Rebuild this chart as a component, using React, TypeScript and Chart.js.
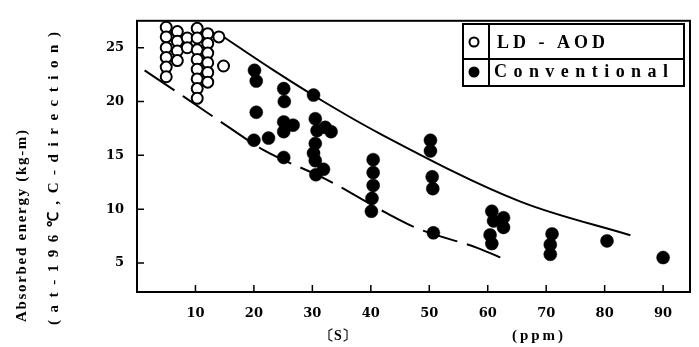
import React, { useEffect, useRef } from 'react';
import { Chart, registerables } from 'chart.js';

Chart.register(...registerables);

// ---- data ----
const ldAodX = [
  5.0, 5.0, 5.0, 5.0, 5.0, 5.0,
  6.9, 6.9, 6.9, 6.9,
  8.6, 8.6,
  10.3, 10.3, 10.3, 10.3, 10.3, 10.3, 10.3, 10.3,
  12.1, 12.1, 12.1, 12.1, 12.1, 12.1,
  14.0, 14.8,
];
const ldAodY = [
  26.9, 26.0, 25.0, 24.1, 23.2, 22.3,
  26.5, 25.6, 24.7, 23.8,
  25.9, 25.0,
  26.8, 25.9, 24.8, 23.9, 23.0, 22.1, 21.2, 20.3,
  26.3, 25.4, 24.5, 23.6, 22.7, 21.8,
  26.0, 23.3,
];

const convX = [
  20.1, 20.4, 20.4, 20.0, 22.5,
  25.1, 25.2, 25.1, 26.7, 25.1, 25.1,
  30.2, 30.5, 32.2, 33.2, 30.8, 30.5, 30.2, 30.5, 31.9, 30.6,
  40.4, 40.4, 40.4, 40.2, 40.1,
  50.2, 50.2, 50.5, 50.6, 50.7,
  60.7, 62.7, 61.0, 62.7, 60.4, 60.7,
  71.0, 70.7, 70.7,
  80.4, 90.0,
];
const convY = [
  22.9, 21.9, 19.0, 16.4, 16.6,
  21.2, 20.0, 18.1, 17.8, 17.2, 14.8,
  20.6, 18.4, 17.6, 17.2, 17.3, 16.1, 15.2, 14.5, 13.7, 13.2,
  14.6, 13.4, 12.2, 11.0, 9.8,
  16.4, 15.4, 13.0, 11.9, 7.8,
  9.8, 9.2, 8.9, 8.3, 7.6, 6.8,
  7.7, 6.7, 5.8,
  7.05, 5.5,
];

const upperX = [14.0, 23.2, 31.9, 41.6, 65.6, 84.4];
const upperY = [26.3, 22.96, 20.0, 17.0, 10.7, 7.57];

const lowerX = [1.3, 8.0, 16.0, 21.6, 32.6, 42.8, 48.0, 58.2, 63.5];
const lowerY = [22.9, 20.45, 17.5, 15.5, 12.7, 9.6, 8.2, 6.4, 5.2];

const xTicks = [10, 20, 30, 40, 50, 60, 70, 80, 90];
const yTicks = [5, 10, 15, 20, 25];
const xMin = 0;
const xMax = 94.6;
const yMin = 2.3;
const yMax = 27.5;

const yTitle1 = 'Absorbed energy (kg-m)';
const yTitle2 = '(at-196℃,C-direction)';
const xUnit1 = '〔S〕';
const xUnit2 = '(ppm)';
const legendLabels = ['LD - AOD', 'Conventional'];

const zip = (xs: number[], ys: number[]) => xs.map((x, i) => ({ x, y: ys[i] }));

function spacedText(ctx: CanvasRenderingContext2D, text: string, x: number, y: number, target: number) {
  const chars = Array.from(text);
  const widths = chars.map((c) => ctx.measureText(c).width);
  const total = widths.reduce((a, b) => a + b, 0);
  const gap = chars.length > 1 ? Math.max(0, (target - total) / (chars.length - 1)) : 0;
  let cx = x;
  chars.forEach((c, i) => {
    ctx.fillText(c, cx, y);
    cx += widths[i] + gap;
  });
}

const decor = {
  id: 'decor',
  beforeDatasetsDraw(chart: any) {
    const { ctx, chartArea: a, scales } = chart;
    ctx.save();
    ctx.strokeStyle = '#000';
    ctx.lineWidth = 2;
    ctx.strokeRect(a.left, a.top, a.right - a.left, a.bottom - a.top);
    ctx.lineWidth = 1.5;
    ctx.beginPath();
    for (const v of xTicks) {
      const x = scales.x.getPixelForValue(v);
      ctx.moveTo(x, a.bottom);
      ctx.lineTo(x, a.bottom - 7);
    }
    for (const v of yTicks) {
      const y = scales.y.getPixelForValue(v);
      ctx.moveTo(a.left, y);
      ctx.lineTo(a.left + 7, y);
    }
    ctx.stroke();
    ctx.restore();
  },
  afterDraw(chart: any) {
    const { ctx } = chart;
    ctx.save();
    ctx.fillStyle = '#000';
    ctx.textBaseline = 'middle';
    ctx.textAlign = 'left';

    // y-axis title, two rotated lines
    ctx.font = 'bold 15px "Liberation Serif"';
    ctx.save();
    ctx.translate(22, 322);
    ctx.rotate(-Math.PI / 2);
    spacedText(ctx, yTitle1, 0, 0, 192);
    ctx.restore();
    ctx.save();
    ctx.translate(54, 325);
    ctx.rotate(-Math.PI / 2);
    spacedText(ctx, yTitle2, 0, 0, 293);
    ctx.restore();

    // x-axis unit labels
    ctx.font = 'bold 14px "Liberation Serif"';
    ctx.textAlign = 'center';
    ctx.fillText(xUnit1, 338, 336);
    ctx.textAlign = 'left';
    ctx.font = 'bold 15px "Liberation Serif"';
    spacedText(ctx, xUnit2, 512, 336, 51);

    // legend table
    const L = 463, R = 684, T = 24, M = 59, B = 86, V = 489;
    ctx.fillStyle = '#fff';
    ctx.fillRect(L, T, R - L, B - T);
    ctx.strokeStyle = '#000';
    ctx.lineWidth = 2;
    ctx.strokeRect(L, T, R - L, B - T);
    ctx.beginPath();
    ctx.moveTo(L, M);
    ctx.lineTo(R, M);
    ctx.moveTo(V, T);
    ctx.lineTo(V, B);
    ctx.stroke();
    ctx.beginPath();
    ctx.arc(474, 42, 4.5, 0, Math.PI * 2);
    ctx.fillStyle = '#fff';
    ctx.fill();
    ctx.lineWidth = 2;
    ctx.stroke();
    ctx.beginPath();
    ctx.arc(474, 72, 5.5, 0, Math.PI * 2);
    ctx.fillStyle = '#000';
    ctx.fill();
    ctx.font = 'bold 18px "Liberation Serif"';
    ctx.textAlign = 'left';
    spacedText(ctx, legendLabels[0], 497, 43, 108);
    spacedText(ctx, legendLabels[1], 494, 72, 174);
    ctx.restore();
  },
};

export default function App() {
  const ref = useRef<HTMLCanvasElement | null>(null);
  useEffect(() => {
    if (!ref.current) return;
    const tickFont = { family: '"DejaVu Serif"', size: 13, weight: 'bold' as const };
    const chart = new Chart(ref.current, {
      type: 'scatter',
      data: {
        datasets: [
          {
            label: legendLabels[1],
            data: zip(convX, convY),
            pointRadius: 6.5,
            pointBackgroundColor: '#000',
            pointBorderColor: '#000',
            pointBorderWidth: 0.5,
            showLine: false,
            order: 0,
          },
          {
            label: legendLabels[0],
            data: zip(ldAodX, ldAodY),
            pointRadius: 5.5,
            pointBackgroundColor: '#fff',
            pointBorderColor: '#000',
            pointBorderWidth: 2,
            showLine: false,
            order: 0,
          },
          {
            label: 'upper',
            data: zip(upperX, upperY),
            showLine: true,
            pointRadius: 0,
            borderColor: '#000',
            borderWidth: 2,
            cubicInterpolationMode: 'monotone',
            order: 1,
          },
          {
            label: 'lower',
            data: zip(lowerX, lowerY),
            showLine: true,
            pointRadius: 0,
            borderColor: '#000',
            borderWidth: 2,
            borderDash: [36, 10],
            cubicInterpolationMode: 'monotone',
            order: 1,
          },
        ],
      },
      options: {
        responsive: true,
        maintainAspectRatio: false,
        animation: false,
        devicePixelRatio: 1,
        events: [],
        layout: { padding: { left: 0, top: 11, right: 9, bottom: 0 } },
        plugins: { legend: { display: false }, tooltip: { enabled: false } },
        scales: {
          x: {
            type: 'linear',
            min: xMin,
            max: xMax,
            grid: { display: false, drawTicks: false },
            border: { display: false },
            ticks: { color: '#000', font: tickFont, padding: 14, maxRotation: 0 },
            afterBuildTicks: (s: any) => {
              s.ticks = xTicks.map((v) => ({ value: v }));
            },
            afterFit: (s: any) => {
              s.height = 55;
            },
          },
          y: {
            type: 'linear',
            min: yMin,
            max: yMax,
            grid: { display: false, drawTicks: false },
            border: { display: false },
            ticks: { color: '#000', font: tickFont, padding: 13 },
            afterBuildTicks: (s: any) => {
              s.ticks = yTicks.map((v) => ({ value: v }));
            },
            afterFit: (s: any) => {
              s.width = 137;
            },
          },
        },
      },
      plugins: [decor],
    } as any);
    return () => chart.destroy();
  }, []);
  return (
    <div style={{ position: 'fixed', left: 0, top: 0, width: 699, height: 347, background: '#fff' }}>
      <canvas ref={ref} />
    </div>
  );
}
